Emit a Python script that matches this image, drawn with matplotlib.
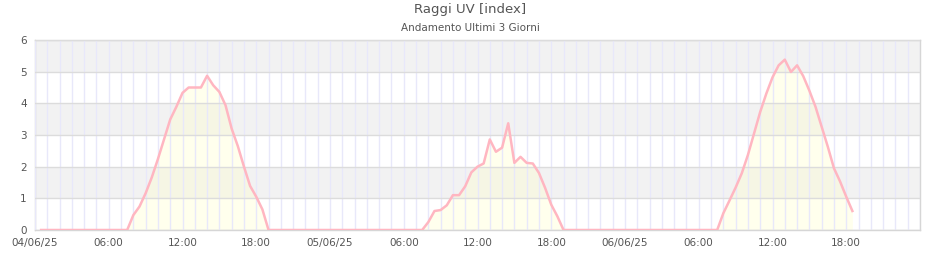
import matplotlib
matplotlib.use("Agg")
import matplotlib.pyplot as plt
import matplotlib.dates as mdates
import pandas as pd

# UV index, one reading every 30 minutes
start_time = "2025-06-04 00:30"
uv_0406 = [0] * 15 + [0.47, 0.74, 1.16, 1.66, 2.24, 2.86, 3.49, 3.89, 4.33, 4.5, 4.5,
                      4.5, 4.87, 4.57, 4.36, 3.94, 3.2, 2.65, 2.0, 1.39, 1.05, 0.65] + [0] * 10
uv_0506 = [0] * 16 + [0.25, 0.6, 0.63, 0.78, 1.1, 1.1, 1.38, 1.82, 2.0, 2.1, 2.86,
                      2.47, 2.6, 3.37, 2.12, 2.31, 2.12, 2.1, 1.8, 1.33, 0.8, 0.43] + [0] * 10
uv_0606 = [0] * 16 + [0.53, 0.93, 1.34, 1.79, 2.37, 3.05, 3.73, 4.31, 4.82, 5.2, 5.38,
                      4.99, 5.2, 4.86, 4.4, 3.89, 3.26, 2.63, 1.95, 1.53, 1.05, 0.6]

title = "Raggi UV [index]"
subtitle = "Andamento Ultimi 3 Giorni"

values = uv_0406 + uv_0506 + uv_0606
times = pd.date_range(start_time, periods=len(values), freq="30min")

fig = plt.figure(figsize=(9.4, 2.6), dpi=100)
ax = fig.add_axes([35 / 940, 30 / 260, 885 / 940, 190 / 260])

# alternating bands
for lo in (1, 3, 5):
    ax.axhspan(lo, lo + 1, color="#f2f2f2", zorder=0, lw=0)

ax.fill_between(times, values, 0, color="#ffffcc", alpha=0.35, lw=0, zorder=1)
ax.plot(times, values, color="#ffb6c1", lw=1.8, zorder=3)

ax.set_xlim(pd.Timestamp("2025-06-04 00:00"), pd.Timestamp("2025-06-07 00:00"))
ax.set_ylim(0, 6)
ax.set_yticks(range(7))

ticks = pd.date_range("2025-06-04 00:00", "2025-06-06 18:00", freq="6h")
ax.set_xticks(ticks)
ax.set_xticklabels([t.strftime("%d/%m/%y") if t.hour == 0 else t.strftime("%H:%M") for t in ticks])
ax.xaxis.set_minor_locator(mdates.HourLocator(interval=1))

ax.grid(axis="x", which="both", color="#e8e8fa", lw=1, zorder=2)
ax.grid(axis="y", which="major", color="#dcdcdc", lw=1, zorder=2)
ax.set_axisbelow(False)

ax.tick_params(which="both", length=0, labelsize=7.5, colors="#555555", pad=6)
for s in ax.spines.values():
    s.set_color("#d6d6d6")
    s.set_linewidth(1)

fig.text(0.5, 1 - 10 / 260, title, ha="center", va="center", fontsize=9.5, color="#555555")
fig.text(0.5, 1 - 28 / 260, subtitle, ha="center", va="center", fontsize=7.5, color="#555555")

fig.savefig("out.png", dpi=100)
